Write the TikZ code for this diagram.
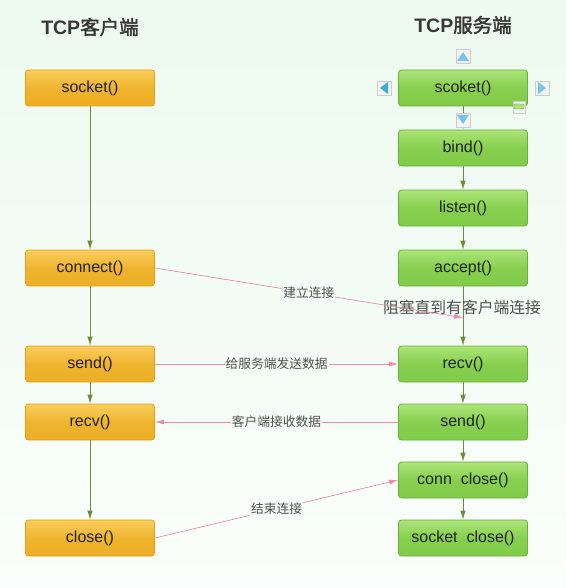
\documentclass[tikz,border=0pt]{standalone}
\usepackage{fontspec}
\setmainfont{Liberation Sans}
\newfontfamily\cjk{Noto Sans CJK SC}[AutoFakeBold=2]
\usetikzlibrary{positioning, arrows.meta, calc}

\definecolor{bgtop}{RGB}{237,250,239}
\definecolor{bgbot}{RGB}{250,254,252}
\definecolor{orgtop}{RGB}{249,206,92}
\definecolor{orgbot}{RGB}{236,174,36}
\definecolor{orgline}{RGB}{226,158,20}
\definecolor{grntop}{RGB}{172,228,120}
\definecolor{grnbot}{RGB}{128,204,72}
\definecolor{grnline}{RGB}{104,176,60}
\definecolor{flow}{RGB}{108,142,60}
\definecolor{msg}{RGB}{232,140,170}
\definecolor{txt}{RGB}{34,34,34}
\definecolor{lbl}{RGB}{80,80,80}
\definecolor{btnblue}{RGB}{60,170,220}

\tikzset{
	box/.style={rounded corners=3pt, minimum width=129pt, minimum height=36pt, inner sep=0pt,
		font=\fontsize{16}{18}\selectfont, text=txt, line width=0.8pt},
	cli/.style={box, draw=orgline, top color=orgtop, bottom color=orgbot, middle color=orgbot!80!orgtop},
	srv/.style={box, draw=grnline, top color=grntop, bottom color=grnbot, middle color=grnbot!85!grntop},
	flowline/.style={draw=flow, line width=0.8pt, -{Latex[length=9pt,width=5.5pt]}},
	msgline/.style={draw=msg, line width=0.7pt, -{Latex[length=9pt,width=5pt]}},
	msglabel/.style={font=\cjk\fontsize{12.75}{14}\selectfont, text=lbl, fill=bgbot!60!bgtop, inner sep=1pt},
	title/.style={font=\bfseries\fontsize{19.5}{22}\selectfont, text=txt!90},
	btn/.style={draw=black!20, fill=black!5, minimum size=14pt, inner sep=0pt},
}

\begin{document}
\begin{tikzpicture}[x=1pt, y=-1pt]
	\shade[top color=bgtop, bottom color=bgbot] (0,0) rectangle (566,588);
	\useasboundingbox (0,0) rectangle (566,588);

	% titles
	\node[title] (tcli) at (90,27) {TCP{\cjk 客户端}};
	\node[title] (tsrv) at (463,25) {TCP{\cjk 服务端}};

	% client
	\node[cli] (csocket) at (90,88) {socket()};
	\node[cli] (cconnect) at (90,268) {connect()};
	\node[cli] (csend) at (90,364) {send()};
	\node[cli] (crecv) at (90,422) {recv()};
	\node[cli] (cclose) at (90,538) {close()};

	% server
	\node[srv] (ssocket) at (463,88) {scoket()};
	\node[srv] (sbind) at (463,148) {bind()};
	\node[srv] (slisten) at (463,208) {listen()};
	\node[srv] (saccept) at (463,268) {accept()};
	\node[srv] (srecv) at (463,364) {recv()};
	\node[srv] (ssend) at (463,422) {send()};
	\node[srv] (sconn) at (463,480) {conn\ \ close()};
	\node[srv] (sclose) at (463,538) {socket\ \ close()};

	\draw[flowline] (csocket) -- (cconnect);
	\draw[flowline] (cconnect) -- (csend);
	\draw[flowline] (csend) -- (crecv);
	\draw[flowline] (crecv) -- (cclose);

	\draw[flowline] (ssocket) -- (sbind);
	\draw[flowline] (sbind) -- (slisten);
	\draw[flowline] (slisten) -- (saccept);
	\draw[flowline] (saccept) -- (srecv);
	\draw[flowline] (srecv) -- (ssend);
	\draw[flowline] (ssend) -- (sconn);
	\draw[flowline] (sconn) -- (sclose);

	\coordinate (join) at ($(saccept.south)!0.53!(srecv.north)$);
	\node[font=\cjk\fontsize{15.8}{18}\selectfont, text=lbl] (block) at (462,307) {阻塞直到有客户端连接};

	% messages
	\draw[msgline] (cconnect.east) -- (join) node[msglabel, pos=0.5] (lconn) {建立连接};
	\draw[msgline] (csend.east) -- (srecv.west) node[msglabel, pos=0.5] (lsend) {给服务端发送数据};
	\draw[msgline] (ssend.west) -- (crecv.east) node[msglabel, pos=0.5] (lrecv) {客户端接收数据};
	\draw[msgline] (cclose.east) -- (sconn.west) node[msglabel, pos=0.5] (lclose) {结束连接};

	% editor handles round scoket()
	\node[btn] (bup) at (463,56) {};
	\fill[btnblue!70] (457,61) -- (469,61) -- (463,52) -- cycle;
	\node[btn] (bdown) at (463,120) {};
	\fill[btnblue!70] (457,115) -- (469,115) -- (463,124) -- cycle;
	\node[btn] (bleft) at (384,88) {};
	\fill[btnblue] (388,82) -- (388,94) -- (380,88) -- cycle;
	\node[btn] (bright) at (542,88) {};
	\fill[btnblue!70] (538,82) -- (538,94) -- (546,88) -- cycle;
	\node[btn, minimum size=12pt] (bsize) at (519,107) {};
	\draw[grnline, fill=grntop, rounded corners=1pt] (514,104) rectangle (524,109);
\end{tikzpicture}
\end{document}
